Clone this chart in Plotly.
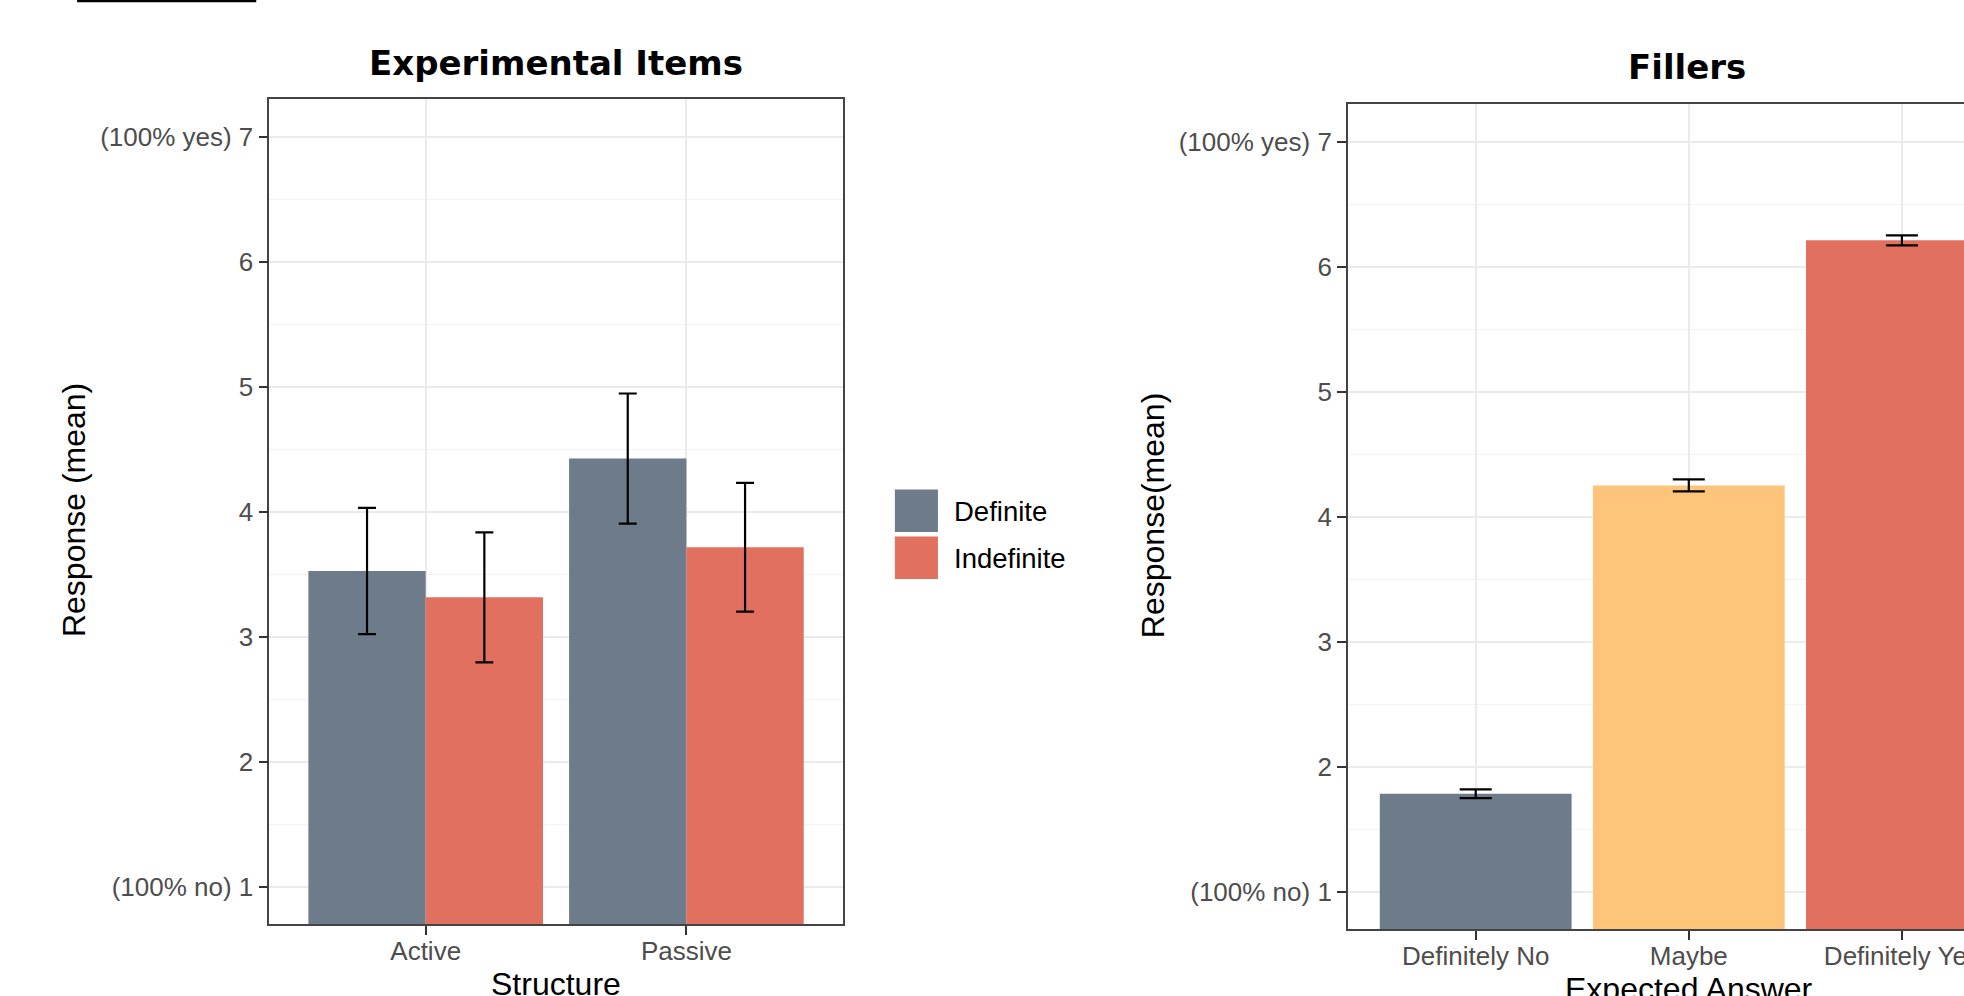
import plotly.graph_objects as go

# ---------------- data ----------------
structures = ["Active", "Passive"]
definite_mean = [3.525, 4.425]
definite_se = [0.505, 0.52]
indefinite_mean = [3.315, 3.715]
indefinite_se = [0.52, 0.515]

filler_cats = ["Definitely No", "Maybe", "Definitely Yes"]
filler_mean = [1.785, 4.25, 6.21]
filler_se = [0.035, 0.048, 0.04]

y_tickvals = [1, 2, 3, 4, 5, 6, 7]
y_ticktext = ["(100% no) 1", "2", "3", "4", "5", "6", "(100% yes) 7"]
y_minor = [1.5, 2.5, 3.5, 4.5, 5.5, 6.5]

legend_names = ["Definite", "Indefinite"]

# ---------------- style ----------------
W, H = 1980, 996
SX = 1.0076                      # horizontal calibration of the capture
SLATE = "#6E7B8B"
RED = "#E2705E"
ORANGE = "#FDC47A"
filler_colors = [SLATE, ORANGE, RED]
FONT = "Liberation Sans, Arial, Helvetica, sans-serif"
TITLE_FONT = "DejaVu Sans, Verdana, sans-serif"
GRID = "#EBEBEB"
MINOR = "#F3F3F3"
FRAME = "#444444"
TICKCOL = "#4D4D4D"


def px_x(p):
    """target screen x pixel -> paper fraction"""
    return p * SX / W


def px_y(p):
    """target screen y pixel -> paper fraction"""
    return 1 - p / H


# right panel: 3 categories, axis spans [-0.6, 2.6]; only the part inside the window is shown
X2_START = 1346.5
UNIT2 = 212.9
x2_range_end = -0.6 + (W - X2_START * SX) / (UNIT2 * SX)

fig = go.Figure()

fig.add_trace(go.Bar(
    x=structures, y=definite_mean, name=legend_names[0],
    marker=dict(color=SLATE, line=dict(width=0)),
    error_y=dict(type="data", array=definite_se, color="black", thickness=2.2, width=9),
    xaxis="x", yaxis="y", showlegend=False,
))
fig.add_trace(go.Bar(
    x=structures, y=indefinite_mean, name=legend_names[1],
    marker=dict(color=RED, line=dict(width=0)),
    error_y=dict(type="data", array=indefinite_se, color="black", thickness=2.2, width=9),
    xaxis="x", yaxis="y", showlegend=False,
))
fig.add_trace(go.Bar(
    x=filler_cats, y=filler_mean, name="Fillers",
    marker=dict(color=filler_colors, line=dict(width=0)),
    error_y=dict(type="data", array=filler_se, color="black", thickness=2.2, width=16),
    xaxis="x2", yaxis="y2", showlegend=False,
))

common_x = dict(
    type="category", showline=True, linecolor=FRAME, linewidth=1.5,
    ticks="outside", ticklen=9, tickwidth=2, tickcolor="#333333",
    ticklabelstandoff=-6,
    showgrid=True, gridcolor=GRID, gridwidth=2, zeroline=False,
    tickfont=dict(family=FONT, size=26, color=TICKCOL),
)
common_y = dict(
    range=[0.7, 7.3], tickmode="array", tickvals=y_tickvals, ticktext=y_ticktext,
    showline=True, linecolor=FRAME, linewidth=1.5,
    ticks="outside", ticklen=9, tickwidth=2, tickcolor="#333333",
    showgrid=True, gridcolor=GRID, gridwidth=2, zeroline=False,
    tickfont=dict(family=FONT, size=26, color=TICKCOL),
    minor=dict(tickmode="array", tickvals=y_minor, showgrid=True,
               gridcolor=MINOR, gridwidth=1.3, ticks=""),
)

fig.update_layout(
    width=W, height=H, autosize=False,
    margin=dict(l=0, r=0, t=0, b=0),
    paper_bgcolor="white", plot_bgcolor="white",
    barmode="group", bargap=0.1, bargroupgap=0,
    showlegend=False,
    xaxis=dict(common_x, domain=[px_x(269), px_x(842)], range=[-0.6, 1.6],
               anchor="y", mirror=True),
    yaxis=dict(common_y, domain=[px_y(924.3), px_y(99)], anchor="x", mirror=True),
    xaxis2=dict(common_x, domain=[px_x(X2_START), 1.0], range=[-0.6, x2_range_end],
                anchor="y2", mirror=True),
    yaxis2=dict(common_y, domain=[px_y(929.4), px_y(104)], anchor="x2", mirror=False),
)

annotations = [
    dict(text="<b>Experimental Items</b>", x=px_x(555), y=px_y(63), xref="paper", yref="paper",
         showarrow=False, xanchor="center", yanchor="middle",
         font=dict(family=TITLE_FONT, size=34, color="black")),
    dict(text="<b>Fillers</b>", x=px_x(1685), y=px_y(67), xref="paper", yref="paper",
         showarrow=False, xanchor="center", yanchor="middle",
         font=dict(family=TITLE_FONT, size=34, color="black")),
    dict(text="Response (mean)", x=px_x(74), y=px_y(510), xref="paper", yref="paper",
         showarrow=False, xanchor="center", yanchor="middle", textangle=-90,
         font=dict(family=FONT, size=32, color="black")),
    dict(text="Response(mean)", x=px_x(1152), y=px_y(516), xref="paper", yref="paper",
         showarrow=False, xanchor="center", yanchor="middle", textangle=-90,
         font=dict(family=FONT, size=32, color="black")),
    dict(text="Structure", x=px_x(555), y=px_y(984), xref="paper", yref="paper",
         showarrow=False, xanchor="center", yanchor="middle",
         font=dict(family=FONT, size=32, color="black")),
    dict(text="Expected Answer", x=px_x(1687), y=px_y(989), xref="paper", yref="paper",
         showarrow=False, xanchor="center", yanchor="middle",
         font=dict(family=FONT, size=32, color="black")),
]

# manual legend (large ggplot-style keys)
legend_colors = [SLATE, RED]
key_tops = [489.5, 536.5]
for name, col, top in zip(legend_names, legend_colors, key_tops):
    fig.add_shape(type="rect", xref="paper", yref="paper",
                  x0=px_x(894), x1=px_x(937), y0=px_y(top + 42.5), y1=px_y(top),
                  fillcolor=col, line=dict(width=0))
    annotations.append(dict(text=name, x=px_x(951), y=px_y(top + 22), xref="paper", yref="paper",
                            showarrow=False, xanchor="left", yanchor="middle",
                            font=dict(family=FONT, size=27.5, color="black")))

# stray rule at the very top-left of the original image
fig.add_shape(type="line", xref="paper", yref="paper",
              x0=px_x(77), x1=px_x(256), y0=px_y(1), y1=px_y(1),
              line=dict(color="black", width=2.5))

fig.update_layout(annotations=annotations)

# remove the default page margin so the figure fills the window exactly
fig.write_html(
    "out.html",
    config={"displayModeBar": False},
    post_script="document.body.style.margin='0';document.body.style.overflow='hidden';",
)
